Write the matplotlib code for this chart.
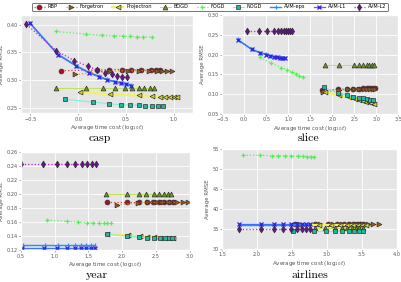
import matplotlib
matplotlib.use("Agg")
import matplotlib.pyplot as plt

plt.style.use("ggplot")

methods = ["RBP", "Forgetron", "Projectron", "BOGD", "FOGD", "NOGD",
           "AVM-eps", "AVM-L1", "AVM-L2"]

# (x = average log10 time cost, y = average RMSE)
casp = {
    "RBP": ([-0.176, 0.197, 0.322, 0.455, 0.552, 0.660, 0.758, 0.815, 0.859],
            [0.317, 0.318, 0.319, 0.319, 0.319, 0.318, 0.318, 0.318, 0.318]),
    "Forgetron": ([-0.03, 0.33, 0.52, 0.64, 0.74, 0.82, 0.88, 0.93, 0.98],
                  [0.310, 0.316, 0.317, 0.317, 0.317, 0.317, 0.317, 0.317, 0.317]),
    "Projectron": ([0.023, 0.336, 0.632, 0.772, 0.859, 0.911, 0.963, 0.998, 1.033],
                   [0.278, 0.274, 0.272, 0.271, 0.270, 0.270, 0.269, 0.269, 0.269]),
    "BOGD": ([-0.228, 0.085, 0.26, 0.389, 0.486, 0.563, 0.633, 0.692, 0.747, 0.796],
             [0.285, 0.285, 0.285, 0.285, 0.285, 0.285, 0.285, 0.285, 0.285, 0.285]),
    "FOGD": ([-0.228, 0.085, 0.25, 0.371, 0.469, 0.545, 0.615, 0.678, 0.77],
             [0.388, 0.383, 0.381, 0.380, 0.380, 0.379, 0.378, 0.378, 0.378]),
    "NOGD": ([-0.134, 0.155, 0.326, 0.448, 0.545, 0.632, 0.70, 0.77, 0.83, 0.887],
             [0.265, 0.260, 0.257, 0.255, 0.255, 0.254, 0.253, 0.252, 0.252, 0.252]),
    "AVM-eps": ([-0.507, -0.214, -0.019, 0.110, 0.214, 0.301, 0.389, 0.448, 0.503, 0.556],
                [0.404, 0.347, 0.326, 0.314, 0.307, 0.301, 0.297, 0.295, 0.293, 0.291]),
    "AVM-L1": ([-0.507, -0.214, -0.019, 0.110, 0.214, 0.301, 0.389, 0.448, 0.503, 0.556],
               [0.403, 0.346, 0.325, 0.313, 0.306, 0.300, 0.296, 0.294, 0.292, 0.290]),
    "AVM-L2": ([-0.542, -0.228, -0.04, 0.10, 0.20, 0.28, 0.35, 0.41, 0.46, 0.51],
               [0.401, 0.353, 0.335, 0.325, 0.318, 0.313, 0.310, 0.308, 0.306, 0.305]),
}

slice_ = {
    "RBP": ([1.78, 2.136, 2.326, 2.477, 2.614, 2.705, 2.78, 2.84, 2.90, 2.962],
            [0.110, 0.112, 0.113, 0.114, 0.114, 0.115, 0.115, 0.115, 0.115, 0.115]),
    "Forgetron": ([1.80, 2.15, 2.35, 2.50, 2.62, 2.72, 2.80, 2.87, 2.93, 2.98],
                  [0.105, 0.110, 0.112, 0.113, 0.113, 0.114, 0.114, 0.114, 0.114, 0.114]),
    "Projectron": ([1.83, 2.16, 2.38, 2.52, 2.62, 2.70, 2.77, 2.83, 2.89, 2.94],
                   [0.105, 0.097, 0.092, 0.088, 0.085, 0.083, 0.081, 0.079, 0.077, 0.075]),
    "BOGD": ([1.833, 2.159, 2.49, 2.614, 2.705, 2.78, 2.84, 2.894, 2.947],
             [0.174, 0.174, 0.174, 0.174, 0.174, 0.174, 0.174, 0.174, 0.174]),
    "FOGD": ([0.356, 0.62, 0.848, 0.977, 1.076, 1.167, 1.25, 1.34],
             [0.193, 0.178, 0.167, 0.161, 0.156, 0.151, 0.147, 0.143]),
    "NOGD": ([1.81, 2.136, 2.33, 2.48, 2.61, 2.70, 2.78, 2.86, 2.92],
             [0.117, 0.102, 0.098, 0.094, 0.091, 0.090, 0.088, 0.086, 0.085]),
    "AVM-eps": ([-0.15, 0.167, 0.356, 0.492, 0.598, 0.68, 0.75, 0.81, 0.87, 0.924],
                [0.238, 0.214, 0.205, 0.201, 0.197, 0.195, 0.194, 0.193, 0.192, 0.191]),
    "AVM-L1": ([-0.15, 0.167, 0.356, 0.492, 0.598, 0.68, 0.75, 0.81, 0.87, 0.924],
               [0.2375, 0.213, 0.204, 0.200, 0.196, 0.194, 0.193, 0.192, 0.191, 0.190]),
    "AVM-L2": ([0.068, 0.34, 0.523, 0.674, 0.773, 0.848, 0.902, 0.947, 0.992, 1.038, 1.076],
               [0.260, 0.260, 0.260, 0.260, 0.260, 0.260, 0.260, 0.260, 0.260, 0.260, 0.260]),
}

year = {
    "RBP": ([1.77, 2.07, 2.25, 2.37, 2.46, 2.54, 2.62, 2.69, 2.75],
            [0.188, 0.188, 0.188, 0.188, 0.188, 0.188, 0.188, 0.188, 0.188]),
    "Forgetron": ([1.93, 2.24, 2.39, 2.51, 2.61, 2.71, 2.81, 2.90, 2.975],
                  [0.185, 0.187, 0.188, 0.188, 0.188, 0.188, 0.188, 0.188, 0.188]),
    "Projectron": ([1.77, 2.09, 2.26, 2.375, 2.47, 2.56, 2.63, 2.70, 2.75],
                   [0.143, 0.141, 0.140, 0.139, 0.139, 0.138, 0.138, 0.138, 0.138]),
    "BOGD": ([1.76, 2.065, 2.25, 2.36, 2.47, 2.55, 2.62, 2.68, 2.73],
             [0.200, 0.200, 0.200, 0.200, 0.200, 0.200, 0.200, 0.200, 0.200]),
    "FOGD": ([0.894, 1.19, 1.35, 1.48, 1.57, 1.66, 1.73, 1.78, 1.83],
             [0.163, 0.161, 0.160, 0.159, 0.159, 0.158, 0.158, 0.158, 0.158]),
    "NOGD": ([1.77, 2.075, 2.25, 2.375, 2.47, 2.56, 2.63, 2.69, 2.74],
             [0.1425, 0.140, 0.1387, 0.1377, 0.1377, 0.1377, 0.1377, 0.1377, 0.1377]),
    "AVM-eps": ([0.534, 0.854, 1.05, 1.20, 1.307, 1.395, 1.47, 1.536, 1.593],
                [0.128, 0.128, 0.128, 0.128, 0.128, 0.128, 0.128, 0.128, 0.128]),
    "AVM-L1": ([0.52, 0.845, 1.04, 1.19, 1.307, 1.395, 1.47, 1.536, 1.593],
               [0.123, 0.123, 0.123, 0.123, 0.123, 0.123, 0.123, 0.123, 0.123]),
    "AVM-L2": ([0.505, 0.835, 1.04, 1.19, 1.30, 1.40, 1.48, 1.55, 1.61],
               [0.243, 0.243, 0.243, 0.243, 0.243, 0.243, 0.243, 0.243, 0.243]),
}

airlines = {
    "RBP": ([2.54, 2.83, 3.02, 3.14, 3.24, 3.31, 3.37, 3.43, 3.47, 3.52],
            [36.3, 36.3, 36.3, 36.3, 36.3, 36.3, 36.3, 36.3, 36.3, 36.3]),
    "Forgetron": ([2.60, 2.90, 3.08, 3.22, 3.33, 3.42, 3.50, 3.58, 3.66, 3.74],
                  [36.2, 36.2, 36.2, 36.2, 36.2, 36.2, 36.2, 36.2, 36.2, 36.2]),
    "Projectron": ([2.60, 2.88, 3.05, 3.18, 3.28, 3.37, 3.44, 3.50, 3.55],
                   [36.0, 36.0, 36.0, 36.0, 36.0, 36.0, 36.0, 36.0, 36.0]),
    "BOGD": ([2.83, 2.97, 3.12, 3.21, 3.28, 3.35, 3.42, 3.46, 3.51],
             [35.2, 35.2, 35.2, 35.2, 35.2, 35.2, 35.2, 35.2, 35.2]),
    "FOGD": ([1.80, 2.04, 2.21, 2.30, 2.40, 2.49, 2.59, 2.66, 2.72, 2.77, 2.81],
             [53.4, 53.4, 53.3, 53.3, 53.3, 53.2, 53.2, 53.2, 53.1, 53.1, 53.1]),
    "NOGD": ([2.52, 2.82, 2.98, 3.12, 3.22, 3.31, 3.38, 3.45, 3.51],
             [34.6, 34.6, 34.6, 34.6, 34.6, 34.6, 34.6, 34.6, 34.6]),
    "AVM-eps": ([1.74, 2.06, 2.24, 2.375, 2.48, 2.57, 2.64, 2.70, 2.76],
                [36.0, 36.0, 36.0, 36.0, 36.0, 36.0, 36.0, 36.0, 36.0]),
    "AVM-L1": ([1.74, 2.06, 2.24, 2.375, 2.48, 2.57, 2.64, 2.70, 2.76],
               [36.2, 36.2, 36.2, 36.2, 36.2, 36.2, 36.2, 36.2, 36.2]),
    "AVM-L2": ([1.74, 2.06, 2.24, 2.375, 2.48, 2.57, 2.64, 2.70, 2.76],
               [34.9, 34.9, 34.9, 34.9, 34.9, 34.9, 34.9, 34.9, 34.9]),
}

# marker, marker colour, line colour, line style, line width
styles = {
    "RBP": ("o", "#a8102c", "#e0404a", ":", 0.9),
    "Forgetron": (">", "#9a5a1c", "#f09020", ":", 0.9),
    "Projectron": ("<", "#d8d820", "#f4f060", "-", 1.6),
    "BOGD": ("^", "#6a9a20", "#c0e060", "-", 0.7),
    "FOGD": ("+", "#50f050", "#60f060", ":", 0.9),
    "NOGD": ("s", "#20b8a0", "#80f0e0", "-", 0.8),
    "AVM-eps": ("|", "#2090ff", "#2090ff", "-", 1.0),
    "AVM-L1": ("x", "#3020e0", "#4070ff", "-", 0.9),
    "AVM-L2": ("d", "#6a1090", "#c020e0", ":", 0.9),
}

panels = [
    ("casp", casp, [0.052, 0.599, 0.429, 0.348], (-0.6, 1.2), (0.24, 0.418),
     [-0.5, 0.0, 0.5, 1.0], [0.25, 0.30, 0.35, 0.40], "%.2f", (100, 138)),
    ("slice", slice_, [0.554, 0.596, 0.439, 0.351], (-0.5, 3.5), (0.05, 0.30),
     [-0.5, 0, 0.5, 1.0, 1.5, 2.0, 2.5, 3.0, 3.5], [0.05, 0.10, 0.15, 0.20, 0.25, 0.30],
     "%.2f", (308, 138)),
    ("year", year, [0.052, 0.113, 0.421, 0.348], (0.5, 3.0), (0.12, 0.26),
     [0.5, 1.0, 1.5, 2.0, 2.5, 3.0], [0.12, 0.14, 0.16, 0.18, 0.20, 0.22, 0.24, 0.26],
     "%.2f", (97, 275)),
    ("airlines", airlines, [0.554, 0.117, 0.436, 0.355], (1.5, 4.0), (30, 55),
     [1.5, 2.0, 2.5, 3.0, 3.5, 4.0], [30, 35, 40, 45, 50, 55], "%d", (310, 275)),
]

fig = plt.figure(figsize=(4.01, 2.82), dpi=100)
fig.patch.set_facecolor("white")

handles = []
for name, data, rect, xlim, ylim, xt, yt, yfmt, tpos in panels:
    ax = fig.add_axes(rect)
    for m in methods:
        xs, ys = data[m]
        mk, mc, lc, ls, lw = styles[m]
        line_mk = mk in "+x|"
        h, = ax.plot(xs, ys, color=lc, linestyle=ls, linewidth=lw,
                     marker=mk, markersize=3.5, markerfacecolor=mc,
                     markeredgecolor=mc if line_mk else "#303030",
                     markeredgewidth=0.9 if line_mk else 0.5, label=m)
        if name == "casp":
            handles.append(h)
    ax.set_xlim(*xlim)
    ax.set_ylim(*ylim)
    ax.set_xticks(xt)
    ax.set_yticks(yt)
    ax.set_xticklabels([("%.1f" % v).replace("-", "\u2212") for v in xt])
    ax.set_yticklabels([yfmt % v for v in yt])
    ax.tick_params(labelsize=3.6, length=1.5, width=0.4, pad=1, colors="#555555")
    ax.grid(color="white", linewidth=0.6)
    ax.set_xlabel(r"Average time cost ($\log_{10}t$)", fontsize=4, labelpad=1, color="#555555")
    ax.set_ylabel("Average RMSE", fontsize=4, labelpad=1.5, color="#555555")
    fig.text(tpos[0] / 401, 1 - tpos[1] / 282, name, family="cmr10",
             fontsize=8.5, ha="center", va="center", color="black")

leg = fig.legend(handles, methods, loc="upper center", bbox_to_anchor=(0.524, 1.0),
                 ncol=9, fontsize=3.6, frameon=True, handlelength=2.2,
                 columnspacing=1.6, handletextpad=0.6, borderpad=0.35)
leg.get_frame().set_edgecolor("#333333")
leg.get_frame().set_facecolor("white")
leg.get_frame().set_linewidth(0.6)

fig.savefig("out.png", dpi=100)
